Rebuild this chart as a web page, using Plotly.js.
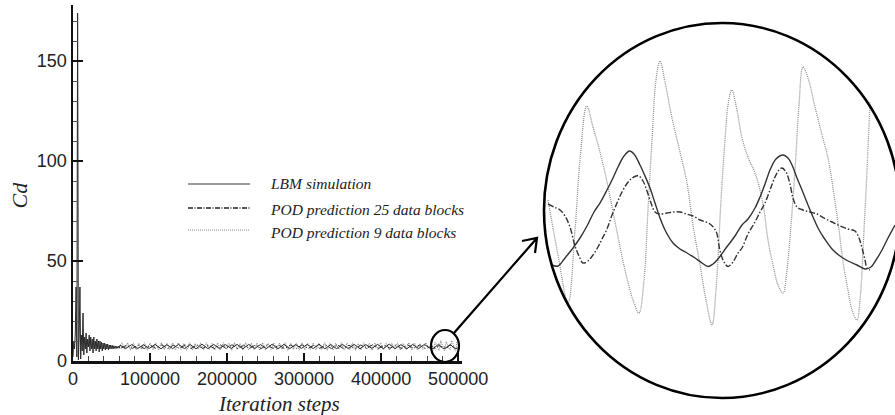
<!DOCTYPE html>
<html>
<head>
<meta charset="utf-8">
<script src="https://cdn.plot.ly/plotly-3.0.1.min.js"></script>
<style>html,body{margin:0;padding:0;background:#fff;}#chart{width:895px;height:415px;}</style>
</head>
<body>
<div id="chart"></div>
<script>
// ---------- DATA ----------
// Main-axis tick values / labels
const xTickVals = [0, 100000, 200000, 300000, 400000, 500000];
const xTickText = ["0", "100000", "200000", "300000", "400000", "500000"];
const yTickVals = [0, 50, 100, 150];
const yTickText = ["0", "50", "100", "150"];

const seriesNames = ["LBM simulation", "POD prediction 25 data blocks", "POD prediction 9 data blocks"];

// LBM simulation: initial transient (every 1000 steps from 0)
const lbmEarlyStart = 0, lbmEarlyStep = 1000;
const lbmEarly = [2, 10, 6, 14, 37, 2, 174, 0.5, 12, 37, 1, 13, 5, 24, 3, 12, 6, 14, 4, 11,
  7, 13, 5, 12, 6, 11, 4, 12, 6, 10, 5, 11, 6, 10, 4.5, 10, 6, 9.5, 5, 9,
  6, 9, 5.5, 8.5, 6, 8.5, 5.5, 8, 6, 8, 6.2, 7.8, 6, 7.6, 6.3, 7.5, 6.2, 7.4, 6.4, 7.3, 6.4];

// LBM simulation: periodic regime (every 7600 steps from 61000)
const lbmMidStart = 61000, lbmMidStep = 7600;
const lbmMid = [7.9,6.3,8.2,6.2,8.1,6.3,8.3,6.1,8.2,6.2,
  8.3,6.2,8.2,6.1,8.4,6.2,8.3,6.2,8.2,6.3,
  8.3,6.1,8.3,6.2,8.2,6.2,8.4,6.1,8.3,6.2,
  8.2,6.3,8.3,6.2,8.4,6.1,8.2,6.2,8.3,6.2,
  8.3,6.1,8.2,6.3,8.3,6.2,8.4,6.2,8.2,6.1,
  8.3,6.2,8.3,6.3];

// POD 25 blocks (every 7600 steps from 62000)
const pod25MidStart = 62000, pod25MidStep = 7600;
const pod25Mid = [6.4,7.9,6.3,8.0,6.2,7.9,6.3,8.1,6.2,7.9,
  6.3,8.0,6.2,8.1,6.3,7.9,6.2,8.0,6.3,8.1,
  6.2,7.9,6.3,8.0,6.2,8.1,6.3,7.9,6.2,8.0,
  6.3,8.1,6.2,7.9,6.3,8.0,6.2,8.1,6.3,7.9,
  6.2,8.0,6.3,8.1,6.2,7.9,6.3,8.0,6.2,8.1,
  6.3,7.9,6.2,7.4];

// POD 9 blocks (every 3650 steps from 60000)
const pod9MidStart = 60000, pod9MidStep = 3650;
const pod9Mid = [7.0,8.9,5.7,9.1,5.5,9.0,5.6,8.8,5.8,9.2,
  5.5,8.9,5.7,9.0,5.4,9.2,5.6,8.7,5.8,9.0,
  5.5,9.1,5.7,8.8,5.4,9.2,5.6,8.8,5.9,9.0,
  5.5,9.2,5.7,8.8,5.4,9.0,5.6,9.1,5.8,8.9,
  5.4,9.1,5.7,8.7,5.5,9.2,5.6,8.9,5.8,9.0,
  5.4,9.1,5.6,8.8,5.7,9.0,5.5,8.9,5.8,9.2,
  5.4,8.9,5.7,9.0,5.5,9.1,5.6,8.7,5.8,9.0,
  5.5,8.8,5.7,9.2,5.4,9.0,5.6,8.8,5.8,9.1,
  5.5,8.9,5.7,9.1,5.4,8.8,5.6,9.2,5.8,8.8,
  5.4,9.0,5.7,9.1,5.5,8.9,5.6,8.7,5.8,9.0,
  5.5,8.8,5.7,9.2,5.4,9.0,5.6,8.8,5.8,9.1,
  6.9];

// Zoomed window (shown magnified in the circle)
const lbmZoomX = [466370,467000,467700,468500,469200,469900,470600,471200,471900,472500,473000,473600,474150,474600,475200,475700,476200,476700,477200,477700,478500,479200,479900,480700,481400,482000,482500,483000,483800,484700,485400,486000,486700,487200,487700,488200,488800,489500,490000,490400,490900,491400,492000,492500,493000,493600,494400,495200,496000,496900,497700,498300,498800,499400,500000,500700];
const lbmZoomY = [6.16,6.14,6.30,6.50,6.70,6.94,7.22,7.40,7.66,7.90,8.12,8.34,8.44,8.38,8.16,7.94,7.70,7.40,7.10,6.86,6.60,6.48,6.40,6.30,6.20,6.13,6.18,6.28,6.50,6.74,6.96,7.08,7.30,7.52,7.78,8.06,8.28,8.36,8.30,8.16,7.90,7.66,7.36,7.12,6.90,6.70,6.48,6.34,6.24,6.16,6.08,6.12,6.26,6.46,6.70,6.96];

const pod25ZoomX = [466000,466600,467200,467700,468200,468700,469100,469500,470000,470500,471000,471400,471900,472400,472900,473300,473800,474300,474800,475100,475500,475900,476300,476700,477200,477900,478500,479200,479800,480500,481200,481800,482200,482600,482900,483200,483600,484000,484500,485000,485400,486000,486700,487200,487700,488200,488700,489100,489400,489800,490200,490500,490900,491500,492200,492900,493600,494400,495200,496000,496700,497100,497400,497700,497900,498200];
const pod25ZoomY = [7.38,7.32,7.26,7.14,6.92,6.54,6.34,6.20,6.24,6.36,6.52,6.68,6.88,7.16,7.40,7.58,7.76,7.88,7.94,7.94,7.84,7.64,7.40,7.22,7.18,7.20,7.22,7.22,7.18,7.14,7.06,7.02,6.98,6.90,6.78,6.44,6.22,6.13,6.22,6.40,6.50,6.78,7.02,7.22,7.40,7.66,7.92,8.06,8.10,8.02,7.78,7.50,7.32,7.26,7.22,7.18,7.10,7.02,6.94,6.88,6.84,6.70,6.50,6.26,6.10,6.06];

const pod9ZoomX = [466000,467000,468000,468700,469200,469870,470500,471200,471900,472700,473700,474500,475100,475600,476000,476400,476800,477200,477700,478400,479200,479900,480500,481200,481800,482400,482800,483300,483700,484000,484370,484900,485400,486000,486700,487200,487600,488000,488500,489000,489500,489900,490300,490700,491100,491500,492000,492700,493400,494000,494600,495100,495500,496000,496400,496900,497200,497600,497900,498200];
const pod9ZoomY = [7.46,6.36,5.40,6.86,8.26,9.34,8.92,8.42,7.82,7.02,6.06,5.46,5.20,5.86,7.26,8.66,9.86,10.24,9.82,9.10,8.42,7.80,6.96,6.16,5.46,4.96,5.66,7.46,8.66,9.36,9.66,9.26,8.70,8.32,8.00,7.66,7.26,6.66,6.16,5.76,5.60,6.06,6.96,8.06,9.36,10.12,9.90,9.32,8.76,8.30,7.56,6.86,6.22,5.66,5.26,5.06,5.46,6.86,8.06,9.42];

// ---------- BUILD ----------
function grid(start, step, n) { const a = []; for (let i = 0; i < n; i++) a.push(start + i * step); return a; }

const lbmX = grid(lbmEarlyStart, lbmEarlyStep, lbmEarly.length)
  .concat(grid(lbmMidStart, lbmMidStep, lbmMid.length)).concat(lbmZoomX);
const lbmY = lbmEarly.concat(lbmMid).concat(lbmZoomY);
const pod25X = grid(pod25MidStart, pod25MidStep, pod25Mid.length).concat(pod25ZoomX);
const pod25Y = pod25Mid.concat(pod25ZoomY);
const pod9X = grid(pod9MidStart, pod9MidStep, pod9Mid.length).concat(pod9ZoomX);
const pod9Y = pod9Mid.concat(pod9ZoomY);

const W = 895, H = 415;
const px = v => v / W;
const py = v => 1 - v / H;

const styleLBM = { color: '#2a2a2a', width: 1 };
const style25 = { color: '#2a2a2a', width: 1, dash: '6px,2px,1.5px,2px' };
const style9 = { color: '#8a8a8a', width: 1.1, dash: '1px,1px' };

const traces = [
  { x: pod9X, y: pod9Y, type: 'scatter', mode: 'lines', name: seriesNames[2], line: style9, showlegend: false, xaxis: 'x', yaxis: 'y' },
  { x: pod25X, y: pod25Y, type: 'scatter', mode: 'lines', name: seriesNames[1], line: style25, showlegend: false, xaxis: 'x', yaxis: 'y' },
  { x: lbmX, y: lbmY, type: 'scatter', mode: 'lines', name: seriesNames[0], line: styleLBM, showlegend: false, xaxis: 'x', yaxis: 'y' },
  // magnified view
  { x: pod9ZoomX, y: pod9ZoomY, type: 'scatter', mode: 'lines', name: seriesNames[2] + ' (zoom)', line: Object.assign({}, style9, { shape: 'spline', width: 1.3, color: '#909090' }), showlegend: false, xaxis: 'x2', yaxis: 'y2' },
  { x: pod25ZoomX, y: pod25ZoomY, type: 'scatter', mode: 'lines', name: seriesNames[1] + ' (zoom)', line: Object.assign({}, style25, { shape: 'spline', width: 1.4, color: '#333' }), showlegend: false, xaxis: 'x2', yaxis: 'y2' },
  { x: lbmZoomX, y: lbmZoomY, type: 'scatter', mode: 'lines', name: seriesNames[0] + ' (zoom)', line: { color: '#333', width: 1.4, shape: 'spline' }, showlegend: false, xaxis: 'x2', yaxis: 'y2' }
];

const tickFont = { family: 'Liberation Sans, Arial, sans-serif', size: 18, color: '#222' };
const serif = 'Liberation Serif, Times New Roman, serif';

const legendRows = [184, 208, 230];
const legendTextRows = [184, 209, 232];
const legendLineStyles = [
  { color: '#7a7a7a', width: 1.3 },
  { color: '#222', width: 1.3, dash: '5px,1.5px,1px,1.5px' },
  { color: '#8a8a8a', width: 1.2, dash: '1px,1px' }
];

const shapes = [
  // magnifying ellipse
  { type: 'circle', xref: 'paper', yref: 'paper', x0: px(544), x1: px(900), y0: py(398), y1: py(23), line: { color: '#000', width: 2.6 } },
  // small ellipse around the zoomed window
  { type: 'circle', xref: 'paper', yref: 'paper', x0: px(431), x1: px(459), y0: py(362), y1: py(330), line: { color: '#000', width: 2.2 } },
  // arrow
  { type: 'path', xref: 'paper', yref: 'paper',
    path: `M ${px(454)},${py(333)} L ${px(537)},${py(238)} M ${px(522)},${py(241)} L ${px(537)},${py(238)} L ${px(535)},${py(253)}`,
    line: { color: '#000', width: 2.2 } }
];
legendRows.forEach((r, i) => {
  shapes.push({ type: 'line', xref: 'paper', yref: 'paper', x0: px(188), x1: px(250), y0: py(r), y1: py(r), line: legendLineStyles[i] });
});

const annotations = [
  { text: 'Iteration steps', xref: 'paper', yref: 'paper', x: px(279), y: py(404), xanchor: 'center', yanchor: 'middle', showarrow: false,
    font: { family: serif, size: 21, color: '#222', style: 'italic' } },
  { text: 'Cd', xref: 'paper', yref: 'paper', x: px(18.5), y: py(195), xanchor: 'center', yanchor: 'middle', textangle: -90, showarrow: false,
    font: { family: serif, size: 22, color: '#222', style: 'italic' } }
];
seriesNames.forEach((n, i) => {
  annotations.push({ text: n, xref: 'paper', yref: 'paper', x: px(268), y: py(legendTextRows[i]), xanchor: 'left', yanchor: 'middle', showarrow: false,
    font: { family: serif, size: 15.5, color: '#222', style: 'italic' } });
});

const layout = {
  width: W, height: H,
  margin: { l: 0, r: 0, t: 0, b: 0, pad: 0 },
  paper_bgcolor: '#fff', plot_bgcolor: 'rgba(0,0,0,0)',
  showlegend: false,
  xaxis: {
    domain: [px(73), px(462)], range: [0, 505000], anchor: 'y',
    tickmode: 'array', tickvals: xTickVals, ticktext: xTickText,
    ticks: 'inside', ticklen: 8, tickwidth: 2, tickcolor: '#111',
    showline: true, linecolor: '#111', linewidth: 2.5, showgrid: false, zeroline: false,
    tickfont: tickFont, automargin: false,
    minor: { dtick: 20000, tick0: 0, ticks: 'inside', ticklen: 5, tickwidth: 1, tickcolor: '#444', showgrid: false }
  },
  yaxis: {
    domain: [py(361), py(5)], range: [0, 178], anchor: 'x',
    tickmode: 'array', tickvals: yTickVals, ticktext: yTickText,
    ticks: 'inside', ticklen: 10, tickwidth: 2, tickcolor: '#111',
    showline: true, linecolor: '#111', linewidth: 2.5, showgrid: false, zeroline: false,
    tickfont: tickFont, automargin: false,
    minor: { dtick: 10, tick0: 0, ticks: 'inside', ticklen: 5, tickwidth: 1, tickcolor: '#555', showgrid: false }
  },
  xaxis2: { domain: [px(544), 1], range: [465600, 500700], anchor: 'y2', visible: false, showgrid: false, zeroline: false },
  yaxis2: { domain: [py(398), py(23)], range: [3.5, 11.0], anchor: 'x2', visible: false, showgrid: false, zeroline: false },
  shapes: shapes,
  annotations: annotations
};

Plotly.newPlot('chart', traces, layout, { staticPlot: true, displayModeBar: false });
</script>
</body>
</html>
